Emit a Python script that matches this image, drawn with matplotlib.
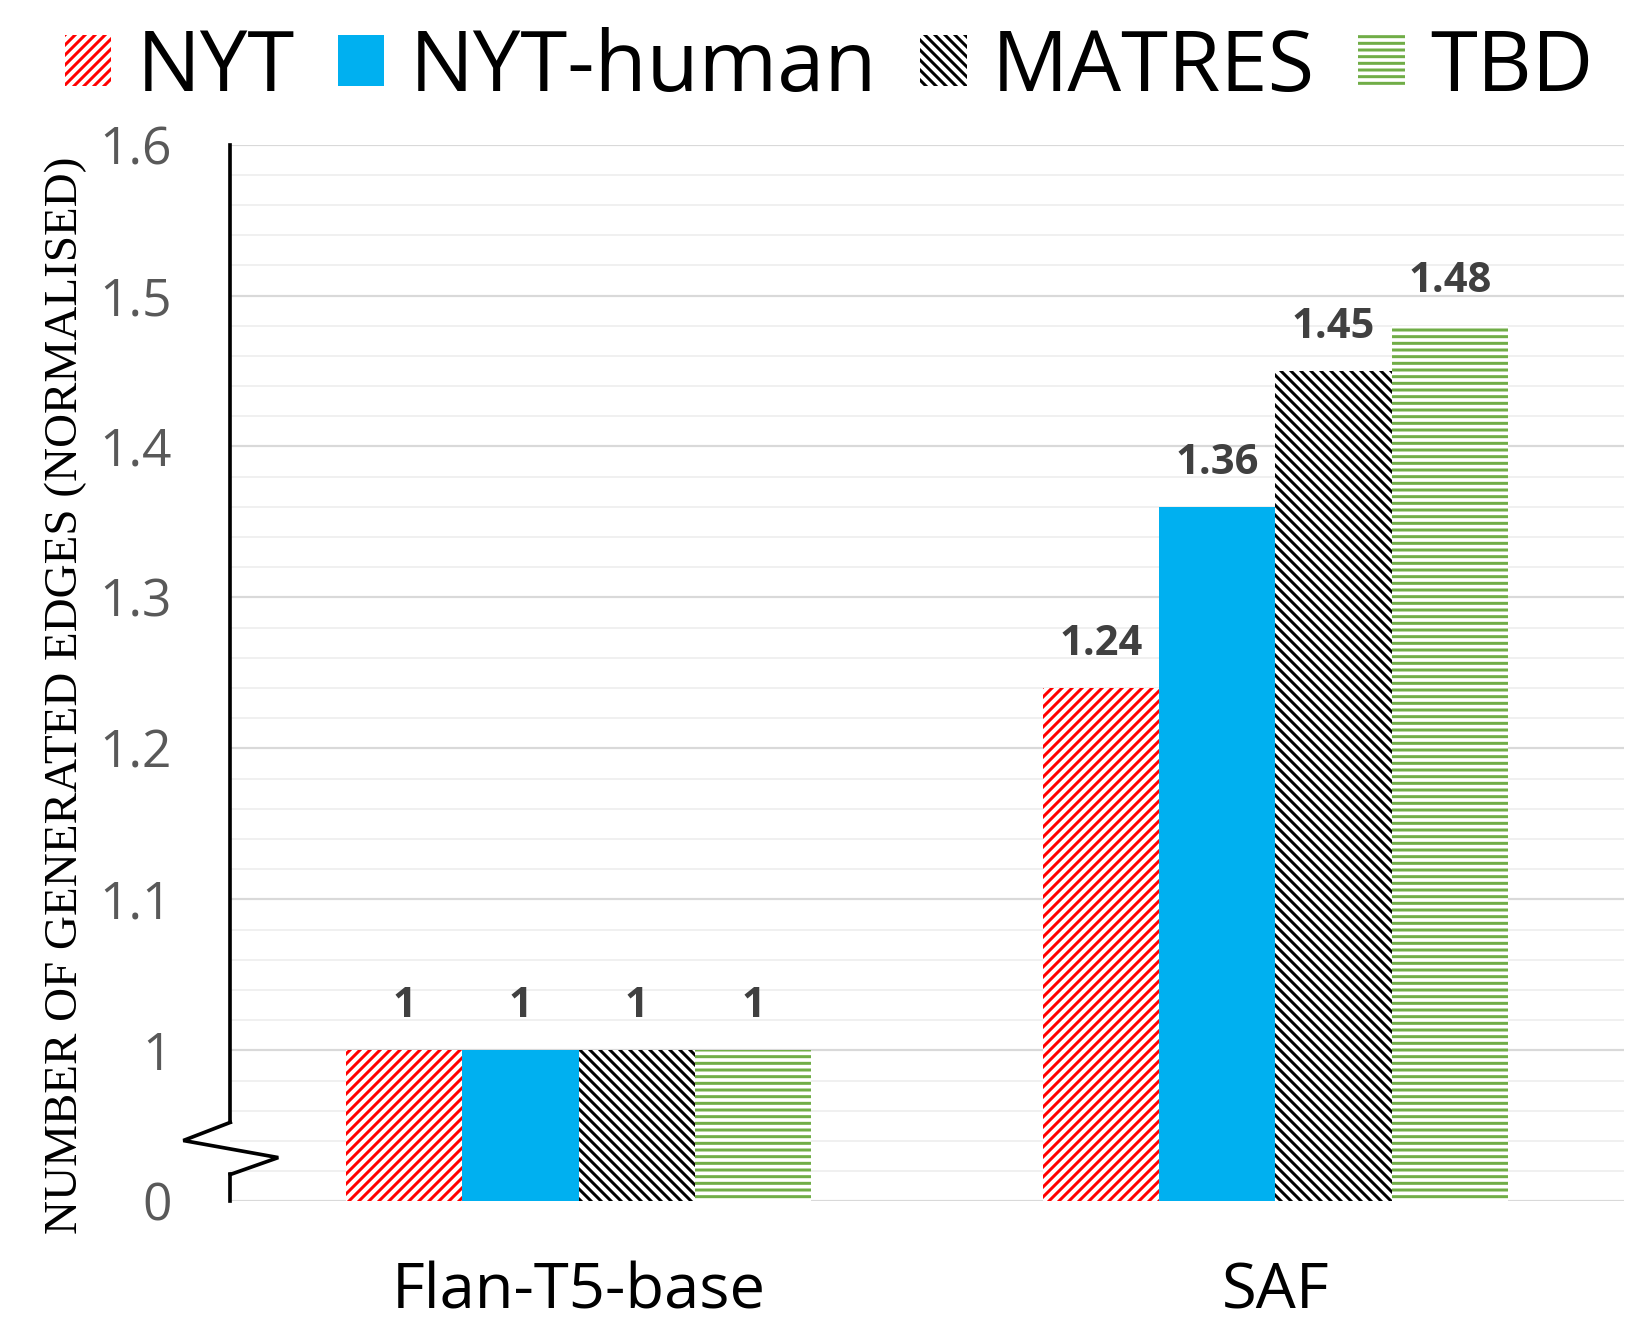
import matplotlib
matplotlib.use("Agg")
import matplotlib.pyplot as plt
import matplotlib.transforms as mtransforms
from matplotlib.patches import Patch
import numpy as np

# data
models = ["Flan-T5-base", "SAF"]
datasets = ["NYT", "NYT-human", "MATRES", "TBD"]
nyt = [1, 1.24]
nyt_human = [1, 1.36]
matres = [1, 1.45]
tbd = [1, 1.48]
ytick_labels = ["0", "1", "1.1", "1.2", "1.3", "1.4", "1.5", "1.6"]

BASE = 0.9   # where the broken axis puts "0"

plt.rcParams["font.family"] = ["Open Sans", "DejaVu Sans"]
plt.rcParams["hatch.linewidth"] = 1.8

fig = plt.figure(figsize=(1645 / 120, 1326 / 120), dpi=120)
ax = fig.add_axes([0.140, 0.094, 0.847, 0.797])

styles = [
    dict(facecolor="white", edgecolor="#FF0000", hatch="////"),
    dict(facecolor="#00B0F0", edgecolor="#00B0F0"),
    dict(facecolor="white", edgecolor="black", hatch="\\\\\\\\"),
    dict(facecolor="white", edgecolor="#70AD47", hatch="---"),
]
series = [nyt, nyt_human, matres, tbd]

x = np.arange(len(models))
w = 0.167
for i, (vals, st) in enumerate(zip(series, styles)):
    pos = x + (i - 1.5) * w
    heights = [v - BASE for v in vals]
    ax.bar(pos, heights, w, bottom=BASE, linewidth=0, zorder=3, **st)
    for p, v in zip(pos, vals):
        ax.annotate("%g" % v, (p, v), xytext=(0, 14), textcoords="offset points",
                    ha="center", va="bottom", fontsize=25, fontweight="bold",
                    color="#404040")

ax.set_xlim(-0.5, 1.5)
ax.set_ylim(BASE, 1.6)
ax.set_yticks(np.arange(0.9, 1.601, 0.1))
ax.set_yticklabels(ytick_labels)
ax.set_yticks(np.arange(0.9, 1.601, 0.02), minor=True)
ax.set_xticks(x)
ax.set_xticklabels(models)
ax.tick_params(axis="y", which="both", length=0, pad=35, labelsize=31, labelcolor="#595959")
ax.tick_params(axis="x", length=0, pad=36, labelsize=38, labelcolor="black")
ax.grid(axis="y", which="major", color="#d9d9d9", lw=1.3, zorder=0)
ax.grid(axis="y", which="minor", color="#f0f0f0", lw=1.2, zorder=0)
ax.grid(axis="x", visible=False)
for s in ax.spines.values():
    s.set_visible(False)

# left axis with a break near the bottom
tr = mtransforms.blended_transform_factory(ax.transAxes, ax.transData)
ax.plot([0, 0], [1.6, 0.9523], color="black", lw=2.2, transform=tr, clip_on=False)
ax.plot([0, -0.0337, 0.0344, 0], [0.9523, 0.9403, 0.929, 0.9178],
        color="black", lw=2.2, transform=tr, clip_on=False, solid_joinstyle="miter")
ax.plot([0, 0], [0.9178, 0.9], color="black", lw=2.2, transform=tr, clip_on=False)

fig.text(0.04, 0.476, "NUMBER OF GENERATED EDGES (NORMALISED)", rotation=90,
         ha="center", va="center", fontsize=28.3, family="Liberation Serif")

handles = [Patch(linewidth=0, **st) for st in styles]
fig.legend(handles, datasets, loc="center", bbox_to_anchor=(0.504, 0.948), ncol=4,
           frameon=False, fontsize=51, handlelength=0.55, handleheight=0.55,
           handletextpad=0.3, columnspacing=0.5, borderaxespad=0)

fig.savefig("out.png", dpi=120)
